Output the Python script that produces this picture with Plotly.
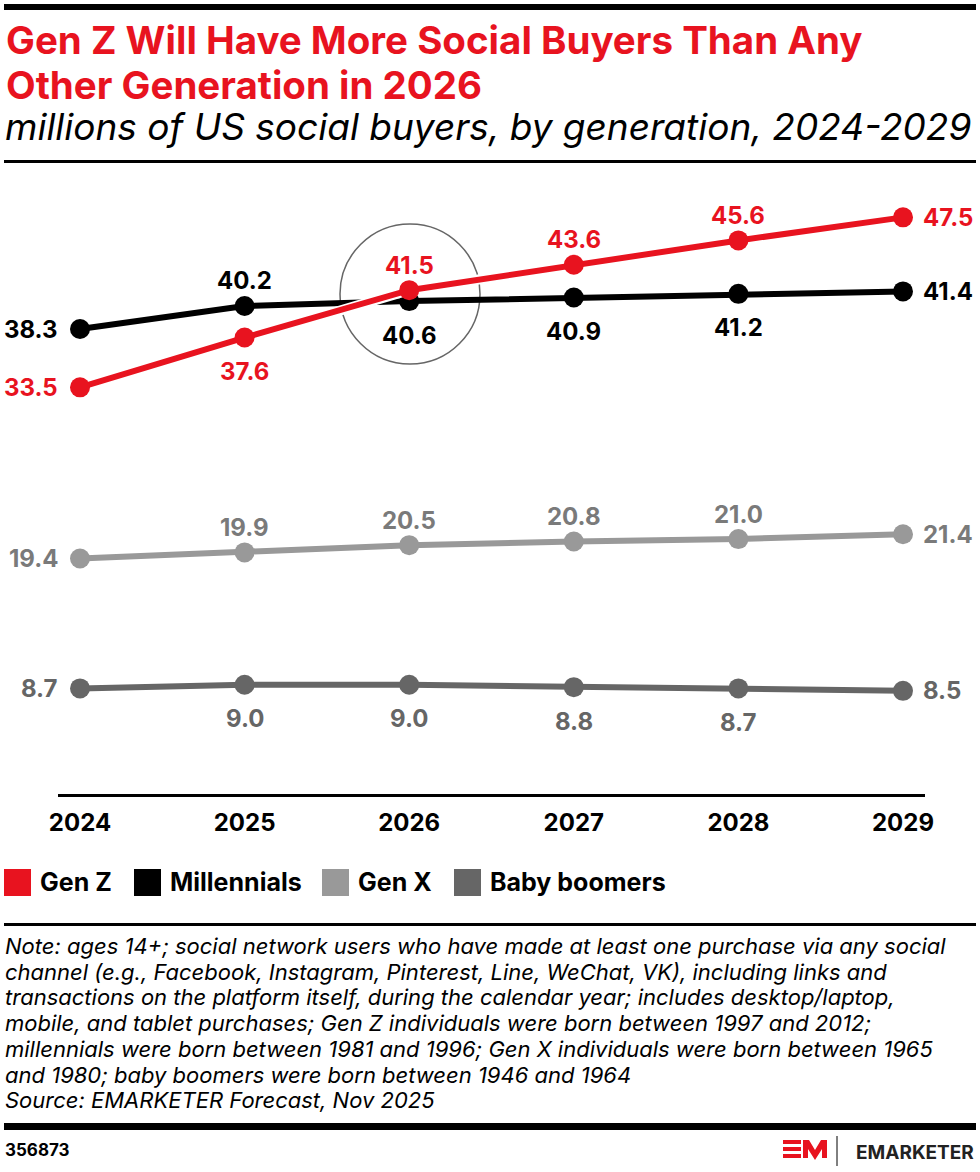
import plotly.graph_objects as go

# -------------------------------
# data
# -------------------------------
years = [2024, 2025, 2026, 2027, 2028, 2029]
year_labels = ["2024", "2025", "2026", "2027", "2028", "2029"]

gen_z = [33.5, 37.6, 41.5, 43.6, 45.6, 47.5]
millennials = [38.3, 40.2, 40.6, 40.9, 41.2, 41.4]
gen_x = [19.4, 19.9, 20.5, 20.8, 21.0, 21.4]
boomers = [8.7, 9.0, 9.0, 8.8, 8.7, 8.5]

series_names = ["Gen Z", "Millennials", "Gen X", "Baby boomers"]

title_lines = ["Gen Z Will Have More Social Buyers Than Any", "Other Generation in 2026"]
subtitle = "millions of US social buyers, by generation, 2024-2029"
note_lines = [
    "Note: ages 14+; social network users who have made at least one purchase via any social",
    "channel (e.g., Facebook, Instagram, Pinterest, Line, WeChat, VK), including links and",
    "transactions on the platform itself, during the calendar year; includes desktop/laptop,",
    "mobile, and tablet purchases; Gen Z individuals were born between 1997 and 2012;",
    "millennials were born between 1981 and 1996; Gen X individuals were born between 1965",
    "and 1980; baby boomers were born between 1946 and 1964",
    "Source: EMARKETER Forecast, Nov 2025",
]
chart_id = "356873"

# -------------------------------
# styling / geometry
# -------------------------------
FONT = "Inter"
RED = "#e8131f"
BLACK = "#000000"
LIGHT = "#999999"
DARK = "#666666"

W, H = 980, 1172
PL, PR, PT, PB = 58, 925, 187, 794


def px(x):
    return (x - PL) / (PR - PL)


def py(y):
    return (PB - y) / (PB - PT)


step = (903 - 80) / 5
pad = 22 / step

fig = go.Figure()
annotations = []
shapes = []


def add_line(vals, name, color, label_color, positions):
    fig.add_trace(go.Scatter(
        x=years, y=vals, name=name, mode="lines+markers",
        line=dict(color=color, width=6),
        marker=dict(color=color, size=20),
        cliponaxis=False, showlegend=False, hoverinfo="skip",
    ))
    # value labels placed relative to each point
    for x, v, pos in zip(years, vals, positions):
        a = dict(x=x, y=v, xref="x", yref="y", text=f"{v:.1f}", showarrow=False, borderpad=0,
                 font=dict(family=FONT, size=24, color=label_color, weight="bold"))
        if pos == "left":
            a.update(xanchor="right", yanchor="middle", xshift=-21)
        elif pos == "right":
            a.update(xanchor="left", yanchor="middle", xshift=19)
        elif pos == "top":
            a.update(xanchor="center", yanchor="middle", yshift=25)
        else:
            a.update(xanchor="center", yanchor="middle", yshift=-34)
        annotations.append(a)


add_line(boomers, series_names[3], DARK, DARK,
         ["left"] + ["bottom"] * 4 + ["right"])
add_line(gen_x, series_names[2], LIGHT, "#7a7a7a",
         ["left"] + ["top"] * 4 + ["right"])
add_line(millennials, series_names[1], BLACK, BLACK,
         ["left", "top", "bottom", "bottom", "bottom", "right"])
# white halo under the Gen Z line where it crosses millennials
fig.add_trace(go.Scatter(x=years, y=gen_z, mode="lines", line=dict(color="white", width=10),
                         showlegend=False, hoverinfo="skip", cliponaxis=False))
add_line(gen_z, series_names[0], RED, RED,
         ["left", "bottom", "top", "top", "top", "right"])

# highlight circle around 2026 crossover
cx, cy, r = 410, 294, 70
shapes.append(dict(type="circle", xref="paper", yref="paper",
                   x0=px(cx - r), x1=px(cx + r), y0=py(cy + r), y1=py(cy - r),
                   line=dict(color="#666666", width=1.5), layer="below"))


# rules
def hrule(y0, y1, x0=4, x1=976):
    shapes.append(dict(type="rect", xref="paper", yref="paper",
                       x0=px(x0), x1=px(x1), y0=py(y1), y1=py(y0),
                       fillcolor=BLACK, line=dict(width=0)))


hrule(4, 10)
hrule(160, 163)
hrule(923, 926)
hrule(1123, 1130)


def label(text, x, y, size, color=BLACK, bold=False, xanchor="left"):
    annotations.append(dict(text=text, x=px(x), y=py(y), xref="paper", yref="paper",
                            xanchor=xanchor, yanchor="middle", showarrow=False,
                            font=dict(family=FONT, size=size, color=color,
                                      weight="bold" if bold else "normal")))


# title block
label(title_lines[0], 4, 40, 38.5, RED, True)
label(title_lines[1], 4, 85, 38.5, RED, True)
label(f"<i>{subtitle}</i>", 3, 127, 37)

# legend
legend_items = [(series_names[0], RED, 4), (series_names[1], BLACK, 134),
                (series_names[2], LIGHT, 322), (series_names[3], DARK, 454)]
for name, color, x0 in legend_items:
    shapes.append(dict(type="rect", xref="paper", yref="paper",
                       x0=px(x0), x1=px(x0 + 27), y0=py(896), y1=py(869),
                       fillcolor=color, line=dict(width=0)))
    label(name, x0 + 34, 882, 25, BLACK, True)

# note
for i, line in enumerate(note_lines):
    label(f"<i>{line}</i>", 3, 946 + 25.7 * i, 22)

# footer
label(chart_id, 3, 1150, 17, BLACK, True)

# EM logo
for y0 in (1140, 1147, 1154):
    shapes.append(dict(type="rect", xref="paper", yref="paper",
                       x0=px(783), x1=px(801), y0=py(y0 + 4), y1=py(y0),
                       fillcolor=RED, line=dict(width=0)))
m_pts = [(803, 1158), (803, 1140), (809, 1140), (815, 1150), (821, 1140), (827, 1140),
         (827, 1158), (822, 1158), (822, 1149), (815, 1160), (808, 1149), (808, 1158)]
path = "M " + " L ".join(f"{px(a):.5f},{py(b):.5f}" for a, b in m_pts) + " Z"
shapes.append(dict(type="path", xref="paper", yref="paper", path=path,
                   fillcolor=RED, line=dict(width=0)))
shapes.append(dict(type="line", xref="paper", yref="paper",
                   x0=px(837), x1=px(837), y0=py(1136), y1=py(1166),
                   line=dict(color=BLACK, width=1)))
label("EMARKETER", 976, 1152, 19, "#222222", True, xanchor="right")

fig.update_layout(
    width=W, height=H,
    margin=dict(l=PL, r=W - PR, t=PT, b=H - PB, pad=0),
    paper_bgcolor="white", plot_bgcolor="white",
    shapes=shapes, annotations=annotations,
    showlegend=False,
    xaxis=dict(range=[years[0] - pad, years[-1] + pad], tickvals=years, ticktext=year_labels,
               showgrid=False, zeroline=False, showline=True, linecolor=BLACK, linewidth=3,
               ticks="", ticklabelstandoff=5,
               tickfont=dict(family=FONT, size=24, color=BLACK, weight="bold")),
    yaxis=dict(range=[0, 50], visible=False, showgrid=False, zeroline=False),
)

fig.write_html("out.html", config={"displayModeBar": False},
               post_script="document.body.style.margin='0';")
